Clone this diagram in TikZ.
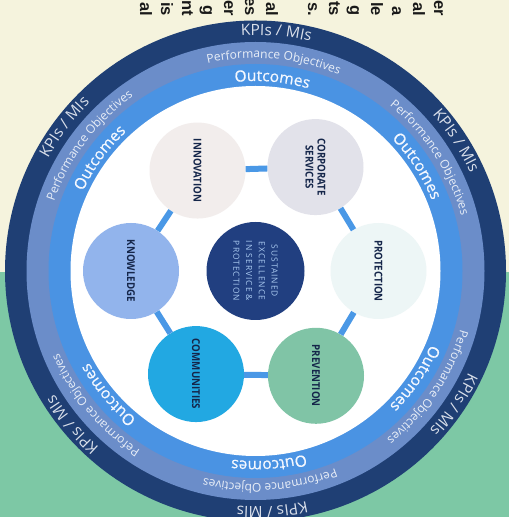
\documentclass[tikz,border=0pt]{standalone}
\usepackage{fontspec}
\usetikzlibrary{decorations.text}
\setmainfont{Open Sans}
\newfontfamily\ringfont{Open Sans}
\newfontfamily\ringboldfont[FakeBold=0.6]{Open Sans}
\newfontfamily\capsfont[FakeStretch=0.9]{Open Sans}
\newfontfamily\corefont[LetterSpace=12]{Open Sans}
\newfontfamily\bodyfont{Liberation Sans}

\definecolor{paper}{HTML}{F5F3DD}
\definecolor{leaf}{HTML}{7DC8A5}
\definecolor{navyring}{HTML}{1F3F74}
\definecolor{perfring}{HTML}{6B8DC9}
\definecolor{outring}{HTML}{4A93E3}
\definecolor{barblue}{HTML}{4A98E6}
\definecolor{coreblue}{HTML}{213F80}
\definecolor{inktext}{HTML}{15264A}
\definecolor{coretext}{HTML}{A9C9F0}
\definecolor{kpitext}{HTML}{D9DFEA}
\definecolor{perftext}{HTML}{E8EEF7}
\definecolor{outtext}{HTML}{F4F8FF}
\definecolor{knowfill}{HTML}{92B4EC}
\definecolor{commfill}{HTML}{22A8E2}
\definecolor{prevfill}{HTML}{80C4A6}
\definecolor{protfill}{HTML}{EDF6F6}
\definecolor{corpfill}{HTML}{E2E2EA}
\definecolor{innovfill}{HTML}{F2EDEC}

\newcommand\kpistyle{\ringfont\fontsize{15.5}{15.5}\selectfont}
\newcommand\perfstyle{\ringfont\fontsize{12}{12}\selectfont}
\newcommand\outstyle{\ringboldfont\fontsize{15.5}{15.5}\selectfont}

% text set along a clockwise arc centred on a given angle
\newcommand\ringtext[5]{%
  \path[decorate,decoration={text along path,text align=center,
      text color=#3,text={|#4|#5}}]
    (#1+40:#2) arc[start angle=#1+40,end angle=#1-40,radius=#2];}

\begin{document}
\begin{tikzpicture}[x=1pt,y=1pt,
  fragment/.style={rotate=-90,anchor=base east,inner sep=0pt,
    font=\bodyfont\bfseries\fontsize{16.5}{16.5}\selectfont,text=black!90},
  pillar/.style={circle,minimum size=96pt,inner sep=0pt,rotate=-90,
    align=center,text=inktext,
    font=\capsfont\bfseries\fontsize{10.8}{12}\selectfont},
  hub/.style={circle,minimum size=98pt,inner sep=0pt,rotate=-90,
    align=center,fill=coreblue,text=coretext,
    font=\corefont\fontsize{8.4}{12.8}\selectfont},
  bar/.style={barblue,line width=6pt}]
\useasboundingbox (0,0) rectangle (509,517);
\clip (0,0) rectangle (509,517);

% page background
\fill[paper] (0,0) rectangle (509,517);
\fill[leaf] (0,0) rectangle (509,245);

% ends of the paragraph lines above the wheel
\foreach \x/\t in {144/al,165/is,186/nt,207/g,228/er,249/es,270/al,
                   312/s.,333/ts,354/g,375/le,396/a,417/al,438/er}
  {\node[fragment] at (\x-4,501) {\t};}

\begin{scope}[shift={(255.5,246)}]
  % rings
  \fill[navyring] (0,0) circle (250.5);
  \fill[perfring] (0,0) circle (229);
  \fill[outring]  (0,0) circle (207);
  \fill[white]    (0,0) circle (185);

  % ring labels
  \foreach \a in {85,33,-34,-86,-140,143}
    {\ringtext{\a}{236}{kpitext}{\kpistyle}{KPIs / MIs}}
  \foreach \a in {85,33,-34,-86,143}
    {\ringtext{\a}{213}{perftext}{\perfstyle}{Performance Objectives}}
  \ringtext{-140}{213}{perftext}{\perfstyle}{Peformance Objectives}
  \foreach \a in {85,33,-34,-86,-140,144}
    {\ringtext{\a}{190}{outtext}{\outstyle}{Outcomes}}

  % core and pillars
  \node[hub] (core) at (0,0) {SUSTAINED\\EXCELLENCE\\IN SERVICE \&\\PROTECTION};
  \node[pillar,fill=protfill]  (prot)  at (0:123)   {PROTECTION};
  \node[pillar,fill=corpfill]  (corp)  at (60:120)  {CORPORATE\\SERVICES};
  \node[pillar,fill=innovfill] (innov) at (120:116) {INNOVATION};
  \node[pillar,fill=knowfill]  (know)  at (180:124.5) {KNOWLEDGE};
  \node[pillar,fill=commfill]  (comm)  at (240:119) {COMMUNITIES};
  \node[pillar,fill=prevfill]  (prev)  at (300:121) {PREVENTION};

  % links between neighbouring pillars
  \draw[bar] (innov) -- (corp);
  \draw[bar] (corp) -- (prot);
  \draw[bar] (prot) -- (prev);
  \draw[bar] (prev) -- (comm);
  \draw[bar] (comm) -- (know);
  \draw[bar] (know) -- (innov);
\end{scope}
\end{tikzpicture}
\end{document}
